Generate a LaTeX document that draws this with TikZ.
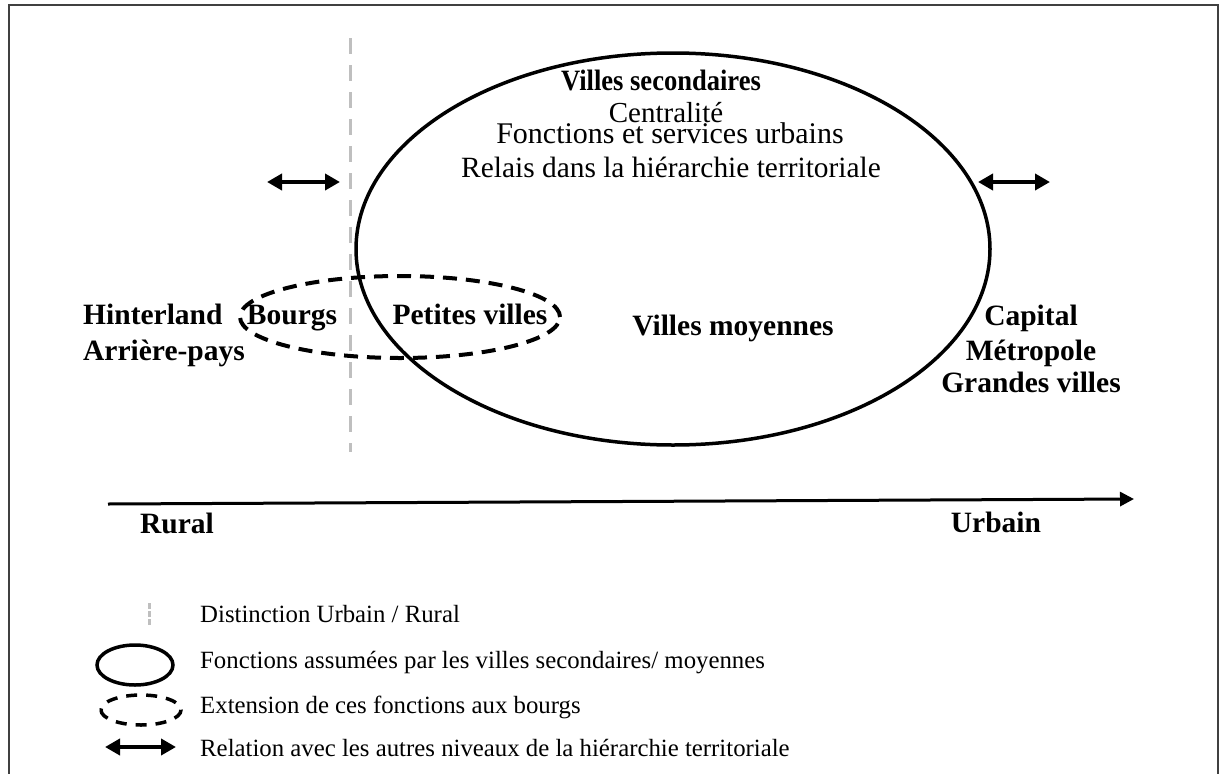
\documentclass[tikz,border=0pt]{standalone}
\usepackage{fontspec}
\usepackage{graphicx}
\setmainfont{Liberation Serif}
\usetikzlibrary{arrows.meta,shapes.geometric}
\begin{document}
\begin{tikzpicture}[x=1pt,y=-1pt,
  lbl/.style={font=\fontsize{29.5}{34}\selectfont\bfseries, inner sep=0pt, anchor=base},
  ctr/.style={font=\fontsize{30}{36}\selectfont, inner sep=0pt, anchor=base},
  leg/.style={font=\fontsize{24.8}{30}\selectfont, inner sep=0pt, anchor=base west},
  dbl/.style={line width=4pt, {Triangle[length=15pt,width=16pt]}-{Triangle[length=15pt,width=16pt]}},
  solidell/.style={draw, ellipse, inner sep=0pt, line width=3.5pt},
  dashell/.style={draw, ellipse, inner sep=0pt, line width=4pt, dash pattern=on 14pt off 9pt},
  sepline/.style={draw=black!25, line width=3pt, dash pattern=on 16pt off 11pt},
  frame/.style={draw=black!75, line width=1.5pt}
]
\useasboundingbox (0,0) rectangle (1224,774);
% frame
\draw[frame] (9,780) -- (9,5) -- (1218,5) -- (1218,780);

% urban/rural separator
\coordinate (sepT) at (350,38);
\coordinate (sepB) at (350,452);
\draw[sepline] (sepT) -- (sepB);

% ellipses
\node[solidell, minimum width=634pt, minimum height=392pt] (big) at (673,249) {};
\node[dashell, minimum width=320pt, minimum height=82pt] (small) at (400,317) {};

% relation arrows
\coordinate (la1) at (267,182);
\coordinate (la2) at (340,182);
\coordinate (ra1) at (978,182);
\coordinate (ra2) at (1050,182);
\draw[dbl] (la1) -- (la2);
\draw[dbl] (ra1) -- (ra2);

% axis
\coordinate (ax1) at (108,504);
\coordinate (ax2) at (1134,499);
\draw[line width=3pt, -{Triangle[length=14pt,width=14pt]}] (ax1) -- (ax2);
\node[lbl] (rural) at (177,533) {Rural};
\node[lbl] (urbain) at (996,532) {Urbain};

% top texts
\node[lbl] (vsec) at (661,90) {\scalebox{0.9}[1]{Villes secondaires}};
\node[ctr, font=\fontsize{29}{36}\selectfont] (centr) at (666,122) {Centralité};
\node[ctr] (fonct) at (670,143) {Fonctions et services urbains};
\node[ctr, font=\fontsize{29.4}{36}\selectfont] (relais) at (671,177) {Relais dans la hiérarchie territoriale};

% labels
\node[lbl, anchor=base west] (hint) at (83,324) {Hinterland};
\node[lbl, anchor=base west] (arr) at (83,360) {Arrière-pays};
\node[lbl] (bourgs) at (292,324) {Bourgs};
\node[lbl] (pv) at (470,324) {Petites villes};
\node[lbl] (vm) at (733,335) {Villes moyennes};
\node[lbl] (cap) at (1031,325) {Capital};
\node[lbl] (metro) at (1031,360) {Métropole};
\node[lbl] (gv) at (1031,392) {Grandes villes};

% legend
\coordinate (lg1) at (149,603);
\coordinate (lg2) at (149,625);
\draw[draw=black!25, line width=3pt, dash pattern=on 6pt off 2pt] (lg1) -- (lg2);
\node[leg] (t1) at (200,622) {Distinction Urbain / Rural};
\node[solidell, minimum width=76pt, minimum height=40pt] (le1) at (135,665) {};
\node[leg] (t2) at (200,668) {Fonctions assumées par les villes secondaires/ moyennes};
\node[dashell, line width=3.5pt, dash pattern=on 11pt off 9pt, minimum width=80pt, minimum height=30pt, rotate=180] (le2) at (141,710) {};
\node[leg] (t3) at (200,713) {Extension de ces fonctions aux bourgs};
\coordinate (lr1) at (105,747);
\coordinate (lr2) at (176,747);
\draw[dbl] (lr1) -- (lr2);
\node[leg] (t4) at (200,756) {Relation avec les autres niveaux de la hiérarchie territoriale};
\end{tikzpicture}
\end{document}
